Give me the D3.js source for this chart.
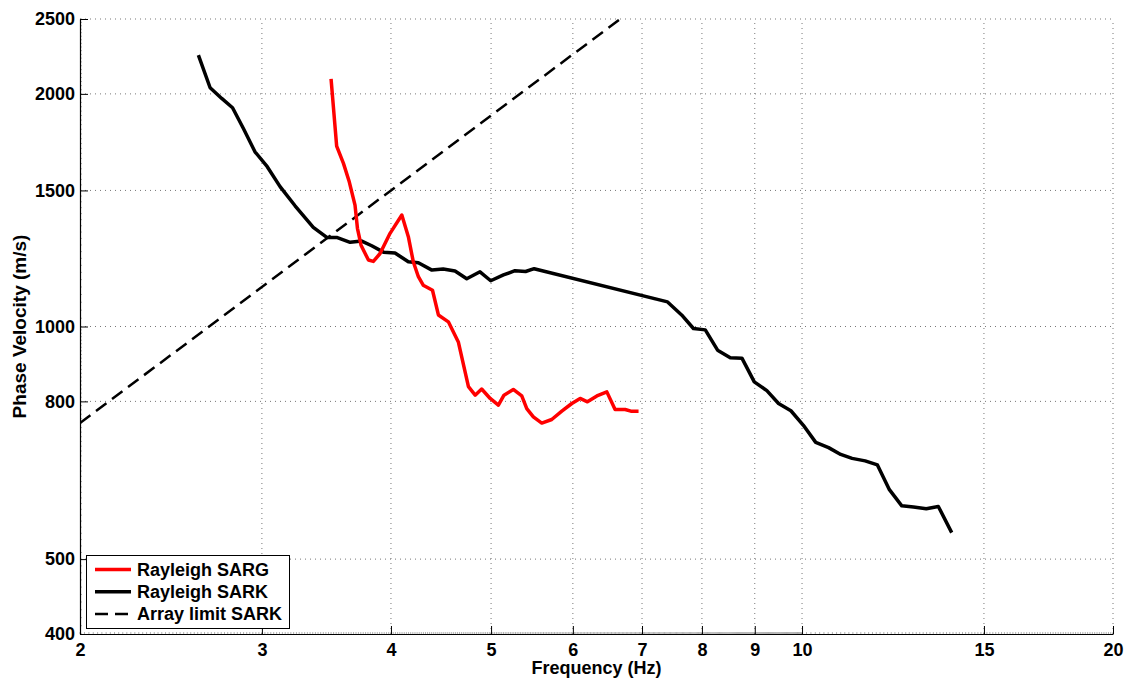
<!DOCTYPE html>
<html><head><meta charset="utf-8">
<script src="https://cdn.jsdelivr.net/npm/d3@7"></script>
<style>
html,body{margin:0;padding:0;background:#fff;}
text{font-family:"Liberation Sans",Arial,Helvetica,sans-serif;font-weight:bold;fill:#000;}
</style></head>
<body><svg id="c" width="1133" height="684"></svg>
<script>
// Rayleigh SARG
const sargFreq = [3.50,3.544,3.598,3.645,3.692,3.712,3.742,3.804,3.846,3.904,3.992,4.098,4.158,4.204,4.252,4.298,4.388,4.446,4.546,4.648,4.754,4.826,4.896,4.99,5.082,5.146,5.254,5.354,5.414,5.494,5.598,5.724,5.854,5.986,6.098,6.198,6.33,6.472,6.592,6.742,6.828,6.946];
const sargVel  = [2091,1712,1626,1539,1436,1340,1274,1219,1214,1243,1320,1394,1307,1213,1160,1131,1114,1035,1014,955,836,815,830,807,791,815,829,813,783,764,750,758,777,795,807,799,813,823,781,781,777,777];
// Rayleigh SARK
const sarkFreq = [2.604,2.673,2.743,2.81,2.878,2.954,3.036,3.124,3.23,3.364,3.467,3.544,3.652,3.748,3.832,3.934,4.036,4.158,4.252,4.382,4.494,4.614,4.736,4.878,4.996,5.14,5.274,5.40,5.504,7.41,7.646,7.85,8.06,8.284,8.522,8.746,8.99,9.246,9.49,9.755,10.03,10.31,10.61,10.90,11.18,11.51,11.83,12.15,12.49,12.82,13.19,13.55,13.96];
const sarkVel  = [2245,2037,1973,1919,1805,1683,1610,1517,1433,1344,1304,1304,1285,1290,1272,1248,1245,1213,1209,1183,1187,1180,1153,1177,1146,1166,1181,1178,1188,1076,1035,994,990,932,911,910,848,826,795,778,745,708,697,683,675,670,662,615,586,584,581,585,541];
// Array limit SARK
const limitFreq = [2, 6.667];
const limitVel  = [750, 2500];

const xTicks = [2,3,4,5,6,7,8,9,10,15,20];
const yTicks = [400,500,800,1000,1500,2000,2500];
const seriesNames = ["Rayleigh SARG","Rayleigh SARK","Array limit SARK"];

const L=80,R=1113,T=19,B=634;
const svg=d3.select("#c");
const x=d3.scaleLog().domain([2,20]).range([L,R]);
const y=d3.scaleLog().domain([400,2500]).range([B,T]);

// grid
const g=svg.append("g");
g.selectAll(".gx").data(xTicks.slice(1)).join("line")
 .attr("x1",d=>x(d)).attr("x2",d=>x(d)).attr("y1",B).attr("y2",T)
 .attr("stroke","#777").attr("stroke-width",1).attr("stroke-dasharray","1,4");
g.selectAll(".gy").data(yTicks.slice(1)).join("line")
 .attr("y1",d=>y(d)).attr("y2",d=>y(d)).attr("x1",L).attr("x2",R)
 .attr("stroke","#777").attr("stroke-width",1).attr("stroke-dasharray","1,4");

// minor ticks
const xMinor=d3.range(2,10,0.02).concat(d3.range(10,20.001,0.1));
const yMinor=d3.range(400,1000,10).concat(d3.range(1000,2500.1,25));
g.selectAll(".mx").data(xMinor).join("line")
 .attr("x1",d=>x(d)).attr("x2",d=>x(d)).attr("y1",B).attr("y2",B-2)
 .attr("stroke","#666").attr("stroke-width",0.5);
g.selectAll(".my").data(yMinor).join("line")
 .attr("y1",d=>y(d)).attr("y2",d=>y(d)).attr("x1",L).attr("x2",L+2)
 .attr("stroke","#666").attr("stroke-width",0.5);

// axes
const xAxis=d3.axisBottom(x).tickValues(xTicks).tickFormat(d3.format("d")).tickSizeInner(-8).tickSizeOuter(0).tickPadding(14);
const yAxis=d3.axisLeft(y).tickValues(yTicks).tickFormat(d3.format("d")).tickSizeInner(-8).tickSizeOuter(0).tickPadding(13);
const gx=svg.append("g").attr("transform",`translate(0,${B})`).call(xAxis);
const gy=svg.append("g").attr("transform",`translate(${L},0)`).call(yAxis);
[gx,gy].forEach(a=>{
  a.select(".domain").attr("stroke","#000").attr("stroke-width",1.2);
  a.selectAll(".tick line").attr("stroke","#000").attr("stroke-width",1);
  a.selectAll(".tick text").style("font-size","18px").style("font-family","'Liberation Sans',Arial,sans-serif").style("font-weight","bold").attr("fill","#000");
});
gx.selectAll(".tick text").attr("dy","0.71em").attr("y",9);
gy.selectAll(".tick text").attr("x",-5);

// axis labels
svg.append("text").attr("x",(L+R)/2).attr("y",674).attr("text-anchor","middle").style("font-size","18px").text("Frequency (Hz)");
svg.append("text").attr("transform",`translate(26,${(T+B)/2}) rotate(-90)`).attr("text-anchor","middle").style("font-size","19px").text("Phase Velocity (m/s)");

// lines
const line=d3.line().x(d=>x(d[0])).y(d=>y(d[1]));
svg.append("clipPath").attr("id","clip").append("rect").attr("x",L).attr("y",T).attr("width",R-L).attr("height",B-T);
const lg=svg.append("g").attr("clip-path","url(#clip)");
lg.append("path").datum(d3.zip(limitFreq,limitVel)).attr("d",line).attr("fill","none").attr("stroke","#000").attr("stroke-width",2.5).attr("stroke-dasharray","13,7");
lg.append("path").datum(d3.zip(sarkFreq,sarkVel)).attr("d",line).attr("fill","none").attr("stroke","#000").attr("stroke-width",3.5).attr("stroke-linejoin","round");
lg.append("path").datum(d3.zip(sargFreq,sargVel)).attr("d",line).attr("fill","none").attr("stroke","#ff0000").attr("stroke-width",3.5).attr("stroke-linejoin","round");

// legend
const leg=svg.append("g");
leg.append("rect").attr("x",86.5).attr("y",555.5).attr("width",203).attr("height",73).attr("fill","#fff").attr("stroke","#000").attr("stroke-width",1);
const styles=[{c:"#ff0000",w:3.5,d:null},{c:"#000",w:3.5,d:null},{c:"#000",w:2.5,d:"13,7"}];
seriesNames.forEach((n,i)=>{
  const yy=569.5+i*22.3;
  leg.append("line").attr("x1",95).attr("x2",131).attr("y1",yy).attr("y2",yy).attr("stroke",styles[i].c).attr("stroke-width",styles[i].w).attr("stroke-dasharray",styles[i].d);
  leg.append("text").attr("x",137).attr("y",yy).attr("dy","0.35em").style("font-size","18px").text(n);
});
</script></body></html>
